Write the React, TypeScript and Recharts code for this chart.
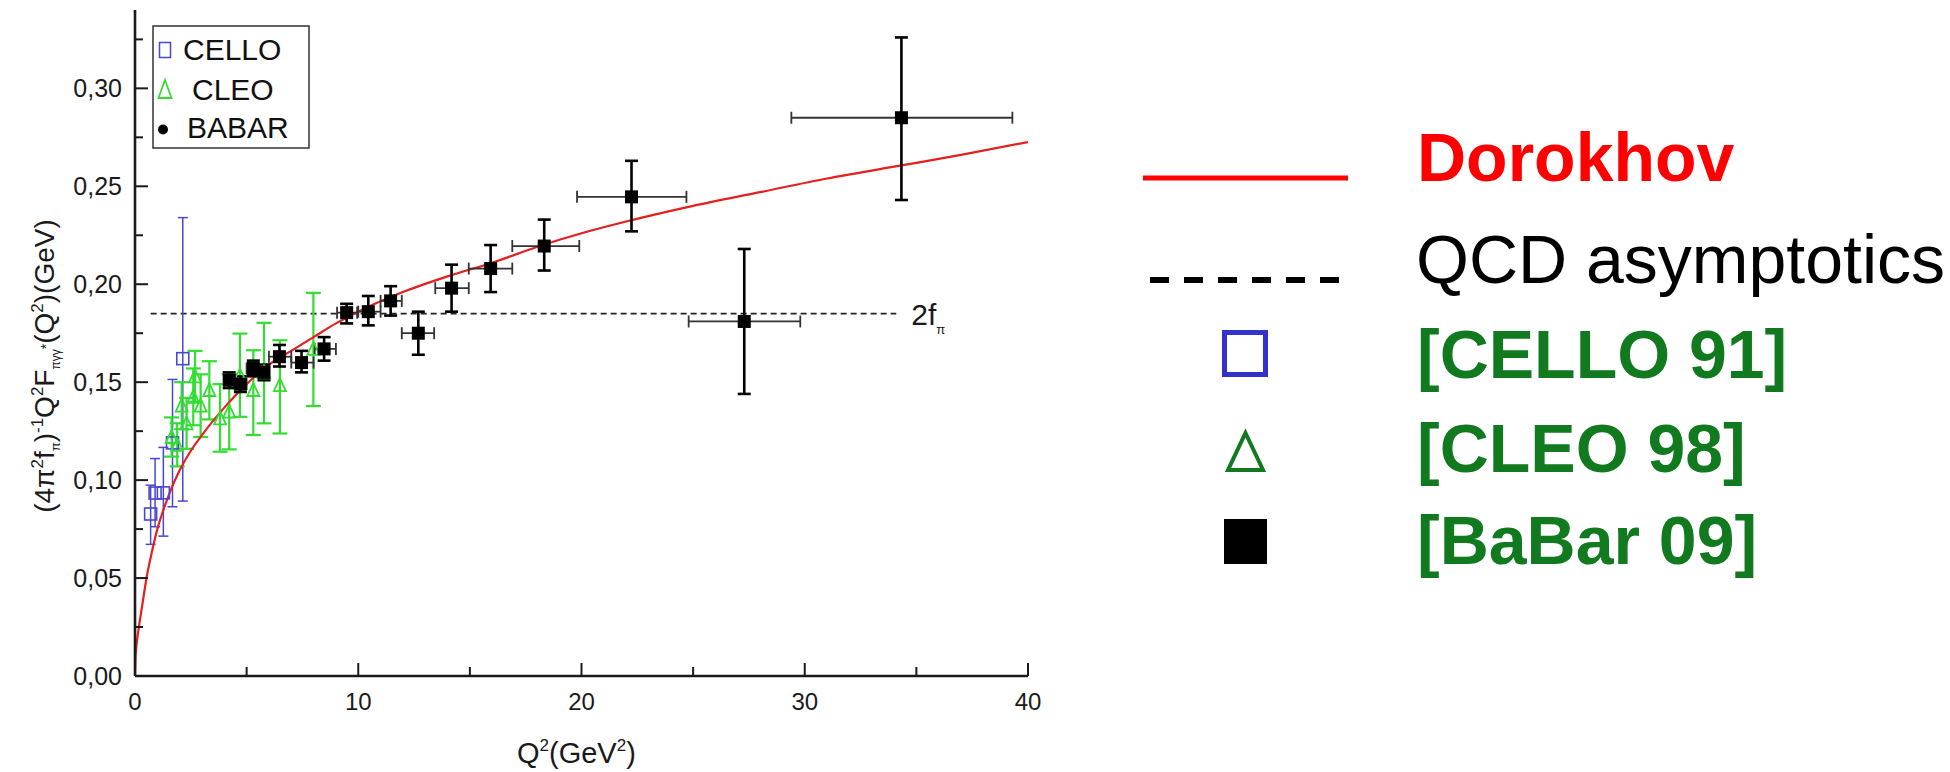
import React from "react";
import {
  ComposedChart,
  ErrorBar,
  Line,
  ReferenceDot,
  ReferenceLine,
  Scatter,
  XAxis,
  YAxis,
} from "recharts";

const FONT = '"Liberation Sans", Arial, Helvetica, sans-serif';
const AXIS = "#1a1a1a";
const RED = "#e61e1e";
const CELLO_BLUE = "#4848d0";
const CLEO_GREEN = "#33dd33";
const DARK_GREEN = "#117a1f";

// Dorokhov curve
const curveQ2 = [0, 0.02, 0.05, 0.1, 0.2, 0.35, 0.5, 0.75, 1, 1.25, 1.5, 2, 2.5, 3, 4, 5, 6, 7, 8, 9, 10, 12, 14, 16, 18, 20, 22, 25, 28, 31, 34, 37, 40];
const curveF = [0, 0.009, 0.014, 0.019, 0.027, 0.038, 0.049, 0.063, 0.075, 0.084, 0.092, 0.105, 0.115, 0.123, 0.137, 0.149, 0.159, 0.166, 0.173, 0.18, 0.186, 0.196, 0.204, 0.211, 0.219, 0.226, 0.232, 0.24, 0.247, 0.254, 0.26, 0.266, 0.2726];

// BaBar 09
const babarQ2 = [4.22, 4.72, 5.3, 5.78, 6.47, 7.46, 8.47, 9.48, 10.45, 11.45, 12.69, 14.18, 15.93, 18.33, 22.24, 27.29, 34.33];
const babarF = [0.151, 0.149, 0.157, 0.155, 0.163, 0.16, 0.167, 0.1855, 0.186, 0.1915, 0.175, 0.198, 0.208, 0.2195, 0.2446, 0.181, 0.285];
const babarFLo = [0.147, 0.145, 0.153, 0.151, 0.158, 0.155, 0.161, 0.18, 0.179, 0.184, 0.164, 0.186, 0.196, 0.207, 0.227, 0.144, 0.243];
const babarFHi = [0.155, 0.153, 0.161, 0.159, 0.169, 0.166, 0.173, 0.19, 0.194, 0.199, 0.186, 0.21, 0.22, 0.233, 0.263, 0.218, 0.326];
const babarQ2Lo = [4.0, 4.5, 5.0, 5.5, 6.0, 7.0, 8.05, 9.05, 10.0, 11.0, 11.95, 13.45, 14.95, 16.9, 19.8, 24.8, 29.4];
const babarQ2Hi = [4.5, 5.0, 5.5, 6.0, 7.0, 8.0, 9.0, 9.95, 11.0, 11.95, 13.4, 14.95, 16.9, 19.9, 24.7, 29.8, 39.3];

// CELLO 91
const celloQ2 = [0.7, 0.9, 1.27, 1.68, 2.14];
const celloF = [0.0827, 0.0934, 0.0935, 0.119, 0.162];
const celloFLo = [0.0672, 0.0762, 0.0714, 0.0864, 0.0893];
const celloFHi = [0.0974, 0.111, 0.1167, 0.1514, 0.234];

// CLEO 98
const cleoQ2 = [1.64, 1.89, 2.09, 2.31, 2.61, 2.69, 2.94, 3.33, 3.81, 4.22, 4.7, 5.3, 5.78, 6.49, 7.99];
const cleoF = [0.122, 0.118, 0.138, 0.129, 0.1425, 0.153, 0.138, 0.146, 0.1315, 0.135, 0.1535, 0.146, 0.155, 0.1485, 0.167];
const cleoFLo = [0.112, 0.107, 0.126, 0.116, 0.128, 0.14, 0.122, 0.131, 0.1145, 0.1157, 0.1323, 0.123, 0.129, 0.1238, 0.1378];
const cleoFHi = [0.132, 0.129, 0.15, 0.142, 0.157, 0.166, 0.154, 0.1607, 0.149, 0.154, 0.1748, 0.1663, 0.1803, 0.1714, 0.1956];

// QCD asymptotic limit 2f_pi
const asymptote = 0.185;
const asymptoteFrom = 0.7;
const asymptoteTo = 34.1;

const xTicks = [0, 5, 10, 15, 20, 25, 30, 35, 40];
const yTicks = [0, 0.025, 0.05, 0.075, 0.1, 0.125, 0.15, 0.175, 0.2, 0.225, 0.25, 0.275, 0.3, 0.325];

const curveData = curveQ2.map((x, i) => ({ x, y: curveF[i] }));
const babarData = babarQ2.map((x, i) => ({
  x,
  y: babarF[i],
  ex: [x - babarQ2Lo[i], babarQ2Hi[i] - x],
  ey: [babarF[i] - babarFLo[i], babarFHi[i] - babarF[i]],
}));
const celloData = celloQ2.map((x, i) => ({
  x,
  y: celloF[i],
  ey: [celloF[i] - celloFLo[i], celloFHi[i] - celloF[i]],
}));
const cleoData = cleoQ2.map((x, i) => ({
  x,
  y: cleoF[i],
  ey: [cleoF[i] - cleoFLo[i], cleoFHi[i] - cleoF[i]],
}));

function XTick(props: any) {
  const { x, y, payload } = props;
  const v = payload.value;
  const major = v % 10 === 0;
  return (
    <g>
      <line x1={x} x2={x} y1={y} y2={y - (major ? 13 : 9)} stroke={AXIS} strokeWidth={2} />
      {major && (
        <text x={x} y={y + 34} textAnchor="middle" fontSize={24} fill={AXIS} fontFamily={FONT}>
          {v}
        </text>
      )}
    </g>
  );
}

function YTick(props: any) {
  const { x, y, payload } = props;
  const v = payload.value;
  const major = Math.round(v * 1000) % 50 === 0;
  return (
    <g>
      <line x1={x} x2={x + (major ? 13 : 8)} y1={y} y2={y} stroke={AXIS} strokeWidth={2} />
      {major && (
        <text x={x - 13} y={y} dy="0.36em" textAnchor="end" fontSize={25} fill={AXIS} fontFamily={FONT}>
          {v.toFixed(2).replace(".", ",")}
        </text>
      )}
    </g>
  );
}

const babarShape = (p: any) => (
  <rect x={p.cx - 6.5} y={p.cy - 6.5} width={13} height={13} fill="#000" />
);
const celloShape = (p: any) => (
  <rect x={p.cx - 6} y={p.cy - 6} width={12} height={12} fill="none" stroke={CELLO_BLUE} strokeWidth={1.6} />
);
const cleoShape = (p: any) => (
  <path
    d={`M${p.cx},${p.cy - 7} L${p.cx + 6},${p.cy + 6} L${p.cx - 6},${p.cy + 6} Z`}
    fill="none"
    stroke={CLEO_GREEN}
    strokeWidth={1.8}
  />
);

function TwoFPi(props: any) {
  const vb = props.viewBox || {};
  return (
    <text x={vb.x + 15} y={vb.y + 11} fontSize={30} fill={AXIS} fontFamily={FONT}>
      2f
      <tspan dy={9} fontSize={13}>π</tspan>
    </text>
  );
}

function Overlay() {
  return (
    <svg
      width={1950}
      height={772}
      style={{ position: "absolute", left: 0, top: 0, pointerEvents: "none" }}
      fontFamily={FONT}
    >
      {/* y axis title */}
      <text transform="translate(54,366) rotate(-90)" textAnchor="middle" fontSize={28} fill={AXIS}>
        <tspan>(4π</tspan>
        <tspan dy={-11} fontSize={17}>2</tspan>
        <tspan dy={11}>f</tspan>
        <tspan dy={6} fontSize={13}>π</tspan>
        <tspan dy={-6}>)</tspan>
        <tspan dy={-11} fontSize={17}>-1</tspan>
        <tspan dy={11}>Q</tspan>
        <tspan dy={-11} fontSize={17}>2</tspan>
        <tspan dy={11}>F</tspan>
        <tspan dy={6} fontSize={12}>πγγ</tspan>
        <tspan dy={-9} fontSize={14}>*</tspan>
        <tspan dy={3}>(Q</tspan>
        <tspan dy={-11} fontSize={17}>2</tspan>
        <tspan dy={11}>)(GeV)</tspan>
      </text>

      {/* x axis title */}
      <text x={517} y={763} fontSize={29} fill={AXIS}>
        Q<tspan dy={-12} fontSize={17}>2</tspan>
        <tspan dy={12}>(GeV</tspan>
        <tspan dy={-12} fontSize={17}>2</tspan>
        <tspan dy={12}>)</tspan>
      </text>

      {/* inner legend */}
      <rect x={153} y={26} width={156} height={122} fill="#fff" stroke="#333" strokeWidth={1.5} />
      <rect x={159.5} y={42.5} width={11} height={15} fill="none" stroke={CELLO_BLUE} strokeWidth={1.5} />
      <text x={183} y={60} fontSize={30} fill="#111">CELLO</text>
      <path d="M165,80 L171.5,98 L158.5,98 Z" fill="none" stroke={CLEO_GREEN} strokeWidth={1.8} />
      <text x={192} y={100} fontSize={30} fill="#111">CLEO</text>
      <circle cx={163} cy={129.5} r={5} fill="#000" />
      <text x={187} y={138} fontSize={30} fill="#111">BABAR</text>

      {/* right legend */}
      <line x1={1143} x2={1348} y1={178} y2={178} stroke="#ff0000" strokeWidth={5} />
      <text x={1417} y={181} fontSize={68} fontWeight="bold" fill="#ff0000">Dorokhov</text>
      <line x1={1150} x2={1340} y1={280} y2={280} stroke="#000" strokeWidth={6} strokeDasharray="19 15" />
      <text x={1416} y={283} fontSize={68} fill="#000">QCD asymptotics</text>
      <rect x={1224.5} y={332.5} width={41} height={42} fill="none" stroke="#3333cc" strokeWidth={5} />
      <text x={1417} y={378} fontSize={68} fontWeight="bold" fill={DARK_GREEN}>[CELLO 91]</text>
      <path d="M1245.5,433 L1263,470 L1228,470 Z" fill="none" stroke={DARK_GREEN} strokeWidth={4} />
      <text x={1417} y={472} fontSize={68} fontWeight="bold" fill={DARK_GREEN}>[CLEO 98]</text>
      <rect x={1224} y={519} width={43} height={45} fill="#000" />
      <text x={1417} y={564} fontSize={68} fontWeight="bold" fill={DARK_GREEN}>[BaBar 09]</text>
    </svg>
  );
}

export default function App() {
  return (
    <div
      style={{
        position: "absolute",
        left: 0,
        top: 0,
        width: 1950,
        height: 772,
        background: "#fff",
        fontFamily: FONT,
      }}
    >
      <ComposedChart
        width={1950}
        height={772}
        margin={{ top: 10, right: 922, bottom: 36, left: 75 }}
      >
        <XAxis
          type="number"
          dataKey="x"
          domain={[0, 40]}
          ticks={xTicks}
          interval={0}
          allowDataOverflow
          tickSize={0}
          tickMargin={0}
          tickLine={false}
          axisLine={{ stroke: AXIS, strokeWidth: 2.6 }}
          tick={<XTick />}
          height={60}
        />
        <YAxis
          type="number"
          dataKey="y"
          domain={[0, 0.34]}
          ticks={yTicks}
          interval={0}
          allowDataOverflow
          tickSize={0}
          tickMargin={0}
          tickLine={false}
          axisLine={{ stroke: AXIS, strokeWidth: 2.6 }}
          tick={<YTick />}
          width={60}
        />
        <ReferenceLine
          segment={[
            { x: asymptoteFrom, y: asymptote },
            { x: asymptoteTo, y: asymptote },
          ]}
          stroke="#222"
          strokeWidth={1.6}
          strokeDasharray="6 4"
        />
        <ReferenceDot
          x={asymptoteTo}
          y={asymptote}
          r={0}
          fill="none"
          stroke="none"
          label={(p: any) => <TwoFPi {...p} />}
        />
        <Scatter name="CELLO" data={celloData} shape={celloShape} isAnimationActive={false}>
          <ErrorBar dataKey="ey" direction="y" width={5} stroke={CELLO_BLUE} strokeWidth={1.5} isAnimationActive={false} />
        </Scatter>
        <Scatter name="CLEO" data={cleoData} shape={cleoShape} isAnimationActive={false}>
          <ErrorBar dataKey="ey" direction="y" width={7.5} stroke={CLEO_GREEN} strokeWidth={2.2} isAnimationActive={false} />
        </Scatter>
        <Line
          name="Dorokhov"
          data={curveData}
          dataKey="y"
          type="monotone"
          stroke={RED}
          strokeWidth={2.2}
          dot={false}
          activeDot={false}
          isAnimationActive={false}
        />
        <Scatter name="BaBar" data={babarData} shape={babarShape} isAnimationActive={false}>
          <ErrorBar dataKey="ex" direction="x" width={6} stroke="#333" strokeWidth={1.8} isAnimationActive={false} />
          <ErrorBar dataKey="ey" direction="y" width={6.5} stroke="#000" strokeWidth={2.6} isAnimationActive={false} />
        </Scatter>
      </ComposedChart>
      <Overlay />
    </div>
  );
}
